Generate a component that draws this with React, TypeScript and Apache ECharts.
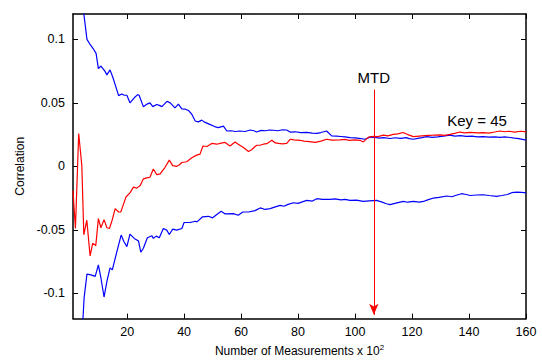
import React, { useEffect, useRef } from "react";
import * as echarts from "echarts";

const xTicks = [20, 40, 60, 80, 100, 120, 140, 160];
const yTicks = [-0.1, -0.05, 0, 0.05, 0.1];

const upperBlue: [number, number][] = [
  [4, 0.135], [5.9, 0.1], [7, 0.096], [8, 0.093], [9.1, 0.089], [9.9, 0.077], [10.8, 0.079], [11.5, 0.077], [12.2, 0.075], [12.9, 0.072], [14, 0.076], [15, 0.07], [16, 0.063], [17, 0.0557], [18.1, 0.057], [19, 0.056], [19.9, 0.056], [21, 0.05], [22.5, 0.054], [23.7, 0.0565], [24.2, 0.056], [25.7, 0.047], [27, 0.049], [28, 0.05], [29, 0.047], [30.4, 0.0487], [31.3, 0.048], [32.2, 0.047], [34, 0.0512], [35.1, 0.05], [36.8, 0.046], [38, 0.049], [39.2, 0.0453], [40.5, 0.045], [41.5, 0.044], [42.7, 0.041], [43.9, 0.0357], [45, 0.035], [46.2, 0.0364], [47, 0.035], [48, 0.034], [49, 0.033], [50.3, 0.0317], [51, 0.031], [52, 0.0305], [53.8, 0.0317], [55, 0.0278], [56.5, 0.028], [58, 0.0274], [59.5, 0.0278], [61.4, 0.0274], [63.2, 0.0286], [64.5, 0.028], [65.5, 0.027], [67, 0.0283], [68.5, 0.028], [70, 0.0286], [71.3, 0.0284], [73, 0.028], [74.5, 0.0288], [76, 0.0286], [77.2, 0.027], [79, 0.0272], [81, 0.0266], [83, 0.0268], [85, 0.0262], [86.6, 0.026], [88, 0.0266], [89, 0.0272], [90, 0.0278], [91.8, 0.024], [93.5, 0.0238], [95, 0.0235], [96.5, 0.0232], [98.2, 0.0226], [100, 0.0224], [101.5, 0.022], [103.5, 0.0213], [105.3, 0.023], [107, 0.0228], [108.5, 0.0222], [110, 0.0226], [112.3, 0.0219], [114, 0.0225], [116, 0.022], [118, 0.0226], [119, 0.0218], [120.5, 0.0213], [122, 0.022], [123.5, 0.0226], [125.2, 0.0234], [127, 0.0228], [129, 0.0232], [131, 0.0238], [133.3, 0.0245], [135, 0.0238], [137, 0.0242], [139, 0.0236], [141, 0.0238], [143, 0.0232], [145, 0.0234], [147, 0.023], [149, 0.0232], [151, 0.0228], [152.5, 0.0232], [154.4, 0.0227], [156, 0.0222], [157.5, 0.0218], [159.6, 0.0208], [160, 0.0208],
];

const redLine: [number, number][] = [
  [1, -0.019], [1.85, -0.049], [3, 0.0258], [4.1, 0.0005], [4.8, -0.054], [5.85, -0.0425], [7, -0.0706], [7.9, -0.0607], [9, -0.0625], [9.9, -0.0412], [10.8, -0.0484], [11.9, -0.042], [12.9, -0.0484], [13.8, -0.049], [14.8, -0.042], [15.8, -0.0334], [17, -0.036], [17.8, -0.036], [18.7, -0.03], [19.6, -0.0242], [21, -0.021], [22.2, -0.0164], [23.4, -0.0172], [24.6, -0.0152], [25.7, -0.0099], [26.9, -0.0091], [28, -0.0086], [29.2, -0.0021], [30.4, -0.0066], [31.6, -0.006], [33.3, -0.0008], [34.8, 0.0049], [36, 0.0005], [37.4, 0.0], [38.3, 0.001], [39.2, 0.003], [40.9, 0.0036], [42.7, 0.0067], [44.4, 0.0088], [45.6, 0.0096], [46.6, 0.016], [48, 0.0156], [49.7, 0.018], [51.5, 0.0174], [53, 0.0182], [54.4, 0.0188], [56.1, 0.016], [57.9, 0.0192], [59, 0.0174], [60.8, 0.0148], [62.6, 0.0117], [63.7, 0.013], [64.9, 0.0156], [65.5, 0.0166], [66.7, 0.0166], [67.8, 0.0174], [69, 0.0178], [70.8, 0.0205], [72, 0.0184], [73.1, 0.018], [74.5, 0.0176], [76, 0.018], [77.2, 0.0213], [78.5, 0.0208], [80.7, 0.0205], [82, 0.0198], [84, 0.0194], [86, 0.0188], [88, 0.0198], [90, 0.0213], [92, 0.0206], [94.7, 0.0208], [96.5, 0.0212], [98, 0.0204], [100, 0.0208], [101.7, 0.0205], [102.9, 0.0192], [104.7, 0.023], [106.5, 0.0236], [108, 0.0234], [110, 0.0245], [111.5, 0.024], [113.4, 0.0252], [115, 0.0256], [116.9, 0.0266], [118.5, 0.025], [120.5, 0.0234], [122.5, 0.0238], [124.5, 0.0242], [127.5, 0.0245], [130, 0.0248], [131.5, 0.0244], [133.3, 0.0252], [135, 0.026], [136.8, 0.027], [138.5, 0.0264], [140.5, 0.0268], [143, 0.0264], [145, 0.0266], [147, 0.0262], [149, 0.027], [150.9, 0.0278], [152.5, 0.0272], [154, 0.0276], [156, 0.027], [158, 0.0276], [159.6, 0.0273], [160, 0.0273],
];

const lowerBlue: [number, number][] = [
  [4, -0.14], [4.9, -0.1037], [5.9, -0.0849], [7.3, -0.0855], [8.8, -0.0867], [9.9, -0.0777], [10.8, -0.088], [11.9, -0.103], [12.9, -0.0906], [14, -0.08], [14.8, -0.0816], [16.4, -0.0672], [17.9, -0.0542], [18.9, -0.0594], [19.9, -0.0633], [21, -0.0534], [22.5, -0.0568], [24, -0.0589], [24.8, -0.0677], [25.7, -0.0646], [27.1, -0.0563], [28.7, -0.0547], [29.2, -0.0568], [30.2, -0.055], [31.3, -0.0563], [32.7, -0.049], [33.9, -0.0503], [34.8, -0.0537], [36, -0.0495], [37.4, -0.0503], [39.2, -0.049], [40, -0.0443], [42.1, -0.0443], [43.9, -0.0433], [44.5, -0.0438], [46.5, -0.0398], [48.5, -0.0394], [50, -0.0406], [51.5, -0.038], [53, -0.0355], [54.4, -0.0375], [57.3, -0.0373], [59, -0.0386], [60.6, -0.036], [62.6, -0.036], [64.9, -0.0349], [66.7, -0.0328], [68.5, -0.034], [70.2, -0.0334], [72, -0.032], [73.7, -0.0308], [75, -0.0315], [76.5, -0.03], [78.4, -0.0287], [80, -0.0292], [81.5, -0.028], [83, -0.0269], [85, -0.0274], [86.6, -0.0255], [88.5, -0.026], [91.2, -0.0261], [93, -0.0256], [95, -0.0264], [96.5, -0.026], [98.2, -0.0269], [100.5, -0.0266], [102.9, -0.0277], [105, -0.0272], [107.6, -0.0269], [109.5, -0.0282], [111, -0.0295], [112.3, -0.0302], [114, -0.0292], [116.9, -0.0277], [118.5, -0.0283], [120.5, -0.0276], [122.5, -0.0282], [124, -0.0277], [125.5, -0.0265], [127.5, -0.025], [129.5, -0.0245], [132.2, -0.0234], [134, -0.024], [135.5, -0.0228], [137.4, -0.0216], [139, -0.0222], [140.4, -0.023], [142.5, -0.0226], [145, -0.0224], [147, -0.023], [149.7, -0.0237], [151.5, -0.023], [153.5, -0.0222], [155, -0.0208], [156.8, -0.0203], [158.5, -0.0206], [160, -0.0209],
];

const mtdX = 106.6;
const mtdTop = 0.0604;
const mtdBottom = -0.117;
const keyLabel = "Key = 45";
const keyPos: [number, number] = [142.8, 0.0362];

const FONT = "Liberation Sans, Arial, Helvetica, sans-serif";

export default function App() {
  const ref = useRef<HTMLDivElement>(null);
  useEffect(() => {
    if (!ref.current) return;
    const chart = echarts.init(ref.current, null, { renderer: "svg" });
    const axisLine = { show: true, onZero: false, lineStyle: { color: "#000", width: 1.5 } };
    const tick = { show: true, inside: true, length: 5, lineStyle: { color: "#000", width: 1 } };
    chart.setOption({
      animation: false,
      backgroundColor: "#fff",
      textStyle: { fontFamily: FONT },
      grid: { left: 73, right: 16, top: 14, bottom: 42, containLabel: false },
      xAxis: [
        {
          type: "value", min: 1, max: 160, position: "bottom",
          axisLine, axisTick: { ...tick, customValues: xTicks },
          splitLine: { show: false },
          axisLabel: { customValues: xTicks, color: "#000", fontSize: 12.5, margin: 7, fontFamily: FONT },
          name: "Number of Measurements x 10{sup|2}", nameLocation: "middle", nameGap: 22,
          nameTextStyle: {
            color: "#000", fontSize: 12, fontFamily: FONT,
            rich: { sup: { fontSize: 8, padding: [0, 0, 7, 0], color: "#000", fontFamily: FONT } },
          },
        },
        {
          type: "value", min: 1, max: 160, position: "top",
          axisLine, axisTick: { ...tick, customValues: xTicks },
          splitLine: { show: false }, axisLabel: { show: false },
        },
      ],
      yAxis: [
        {
          type: "value", min: -0.12, max: 0.12, position: "left",
          axisLine, axisTick: { ...tick, customValues: yTicks },
          splitLine: { show: false },
          axisLabel: { customValues: yTicks, color: "#000", fontSize: 12.5, margin: 8, fontFamily: FONT },
          name: "Correlation", nameLocation: "middle", nameGap: 47,
          nameTextStyle: { color: "#000", fontSize: 12, fontFamily: FONT },
        },
        {
          type: "value", min: -0.12, max: 0.12, position: "right",
          axisLine, axisTick: { ...tick, customValues: yTicks },
          splitLine: { show: false }, axisLabel: { show: false },
        },
      ],
      series: [
        {
          type: "line", data: upperBlue, showSymbol: false, symbol: "none", clip: true,
          lineStyle: { color: "#0000ff", width: 1.2 },
        },
        {
          type: "line", data: redLine, showSymbol: false, symbol: "none", clip: true,
          lineStyle: { color: "#ff0000", width: 1.2 },
          markLine: {
            silent: true,
            symbol: ["none", "arrow"],
            symbolSize: [7, 11],
            lineStyle: { color: "#ff0000", width: 1, type: "solid" },
            label: {
              show: true, position: "start", formatter: "MTD", color: "#000",
              fontSize: 15, distance: 5, fontFamily: FONT,
            },
            data: [[{ coord: [mtdX, mtdTop] }, { coord: [mtdX, mtdBottom] }]],
          },
          markPoint: {
            silent: true,
            symbol: "circle",
            symbolSize: 0,
            label: { show: true, position: "inside", formatter: keyLabel, color: "#000", fontSize: 15, fontFamily: FONT },
            data: [{ coord: keyPos }],
          },
        },
        {
          type: "line", data: lowerBlue, showSymbol: false, symbol: "none", clip: true,
          lineStyle: { color: "#0000ff", width: 1.2 },
        },
      ],
    });
    return () => chart.dispose();
  }, []);
  return (
    <div
      ref={ref}
      style={{ position: "fixed", left: 0, top: 0, width: 542, height: 362, background: "#fff" }}
    />
  );
}
